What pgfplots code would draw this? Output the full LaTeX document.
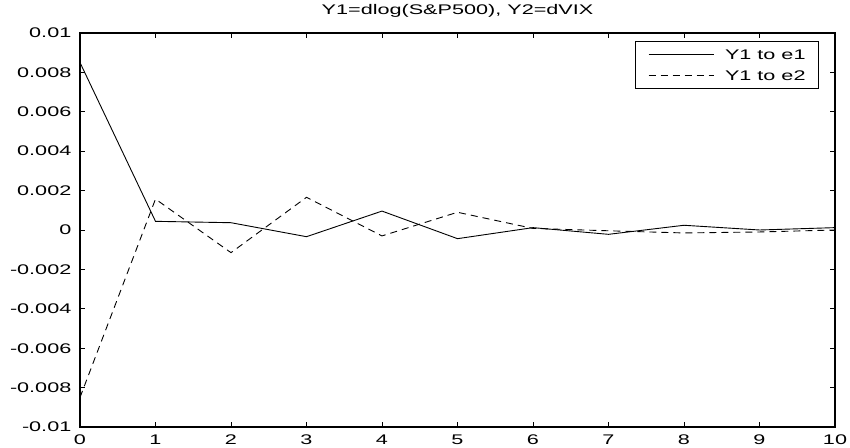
\documentclass[border=0pt]{standalone}
\usepackage{fontspec}
\setmainfont{Liberation Sans}[FakeStretch=1.55]
\usepackage{pgfplots}
\pgfplotsset{compat=1.18}
\begin{document}
\begin{tikzpicture}
\begin{axis}[
  at={(0,0)}, anchor=south west,
  scale only axis, width=755bp, height=394bp,
  xmin=0, xmax=10, ymin=-0.01, ymax=0.01,
  xtick={0,1,2,3,4,5,6,7,8,9,10},
  xticklabels={0,1,2,3,4,5,6,7,8,9,10},
  ytick={-0.01,-0.008,-0.006,-0.004,-0.002,0,0.002,0.004,0.006,0.008,0.01},
  yticklabels={-0.01,-0.008,-0.006,-0.004,-0.002,0,0.002,0.004,0.006,0.008,0.01},
  scaled y ticks=false,
  /pgf/number format/assume math mode=true,
  tick align=inside, major tick length=5bp,
  tick style={black, line width=0.7bp},
  axis line style={black, line width=1.1bp},
  ticklabel style={font=\fontsize{14}{16}\selectfont, inner sep=0pt},
  xticklabel style={anchor=base, yshift=-17bp},
  yticklabel style={anchor=east, xshift=-8.5bp},
  title={Y1=dlog(S\&P500), Y2=dVIX},
  title style={font=\fontsize{14}{16}\selectfont, at={(0.5,1)}, anchor=base, yshift=12.5bp, inner sep=0pt},
  legend style={at={(0.9788,0.9797)}, anchor=north east, draw=black, line width=0.9bp,
    font=\fontsize{14}{16}\selectfont, inner xsep=13bp, inner ysep=8bp, row sep=11bp,
    nodes={inner sep=0pt, text height=10bp, text depth=0bp},
    /tikz/every odd column/.append style={column sep=11bp}},
  legend cell align=left,
  legend image code/.code={\draw[#1, line width=0.9bp] (0bp,0bp) -- (65bp,0bp);},
]
\addplot[black, line width=0.9bp] coordinates {
  (0,0.0085) (1,0.00044) (2,0.00037) (3,-0.00034) (4,0.00096) (5,-0.00044)
  (6,0.00012) (7,-0.00022) (8,0.00024) (9,0.0) (10,0.00012)
};
\addlegendentry{Y1 to e1}
\addplot[black, line width=0.9bp, dash pattern=on 7bp off 5bp] coordinates {
  (0,-0.0085) (1,0.00157) (2,-0.00115) (3,0.00166) (4,-0.0003) (5,0.0009)
  (6,0.00008) (7,-0.00004) (8,-0.00015) (9,-0.0001) (10,0.0)
};
\addlegendentry{Y1 to e2}
\end{axis}
\pgfresetboundingbox
\path (-80bp,-21bp) rectangle (770bp,427bp);
\end{tikzpicture}
\end{document}
